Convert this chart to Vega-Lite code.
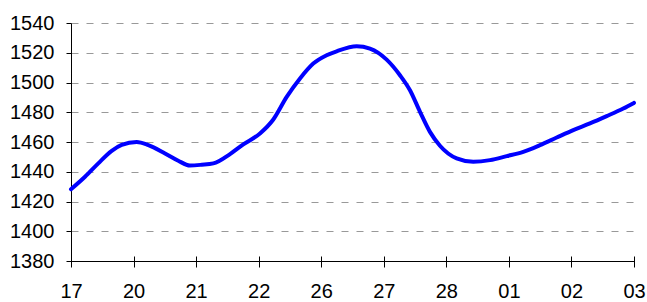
{
  "$schema": "https://vega.github.io/schema/vega-lite/v6.json",
  "width": 563,
  "height": 238,
  "autosize": {"type": "none"},
  "padding": {"left": 71, "top": 23, "right": 13, "bottom": 41},
  "background": "white",
  "config": {
    "view": {"stroke": null},
    "font": "Liberation Sans",
    "axis": {"labelFont": "Liberation Sans", "labelFontSize": 20, "labelColor": "#000000", "titleFontSize": 0}
  },
  "data": {
    "values": [
      {"i": 0.0, "v": 1428.2},
      {"i": 0.224, "v": 1436.6},
      {"i": 0.436, "v": 1445.6},
      {"i": 0.651, "v": 1454.0},
      {"i": 0.81, "v": 1458.0},
      {"i": 1.05, "v": 1460.0},
      {"i": 1.236, "v": 1457.9},
      {"i": 1.503, "v": 1452.3},
      {"i": 1.715, "v": 1447.4},
      {"i": 1.902, "v": 1444.2},
      {"i": 2.089, "v": 1444.7},
      {"i": 2.275, "v": 1445.6},
      {"i": 2.542, "v": 1451.9},
      {"i": 2.754, "v": 1458.4},
      {"i": 3.021, "v": 1465.7},
      {"i": 3.234, "v": 1475.1},
      {"i": 3.448, "v": 1490.3},
      {"i": 3.661, "v": 1502.7},
      {"i": 3.873, "v": 1512.7},
      {"i": 4.087, "v": 1518.3},
      {"i": 4.247, "v": 1521.0},
      {"i": 4.567, "v": 1524.4},
      {"i": 4.779, "v": 1522.8},
      {"i": 5.046, "v": 1515.4},
      {"i": 5.259, "v": 1504.9},
      {"i": 5.419, "v": 1494.8},
      {"i": 5.579, "v": 1480.3},
      {"i": 5.738, "v": 1466.8},
      {"i": 5.898, "v": 1457.5},
      {"i": 6.165, "v": 1449.0},
      {"i": 6.431, "v": 1446.7},
      {"i": 6.698, "v": 1447.8},
      {"i": 6.965, "v": 1450.5},
      {"i": 7.23, "v": 1453.4},
      {"i": 7.497, "v": 1457.9},
      {"i": 7.764, "v": 1463.0},
      {"i": 8.029, "v": 1468.0},
      {"i": 8.296, "v": 1472.5},
      {"i": 8.563, "v": 1477.4},
      {"i": 8.828, "v": 1482.5},
      {"i": 9.0, "v": 1486.3}
    ]
  },
  "mark": {"type": "line", "color": "#0000FF", "strokeWidth": 4, "interpolate": "monotone", "strokeCap": "round", "strokeJoin": "round"},
  "encoding": {
    "x": {
      "field": "i",
      "type": "quantitative",
      "scale": {"domain": [0, 9], "nice": false, "zero": false},
      "axis": {
        "title": null,
        "values": [0, 1, 2, 3, 4, 5, 6, 7, 8, 9],
        "labelExpr": "['17','20','21','22','26','27','28','01','02','03'][datum.value]",
        "grid": false,
        "domain": false,
        "offset": -5,
        "tickSize": 11,
        "tickColor": "#000000",
        "tickWidth": 1,
        "labelPadding": 14,
        "labelFlush": false,
        "labelOverlap": false
      }
    },
    "y": {
      "field": "v",
      "type": "quantitative",
      "scale": {"domain": [1380, 1540], "nice": false, "zero": false},
      "axis": {
        "title": null,
        "format": "d",
        "values": [1380, 1400, 1420, 1440, 1460, 1480, 1500, 1520, 1540],
        "grid": true,
        "gridColor": {"condition": {"test": "datum.value === 1380", "value": "#000000"}, "value": "#999999"},
        "gridDash": {"condition": {"test": "datum.value === 1380", "value": []}, "value": [7, 8]},
        "gridWidth": 1,
        "domain": true,
        "domainColor": "#000000",
        "tickSize": 5,
        "tickColor": "#000000",
        "labelPadding": 12,
        "labelFlush": false,
        "labelOverlap": false
      }
    }
  }
}
